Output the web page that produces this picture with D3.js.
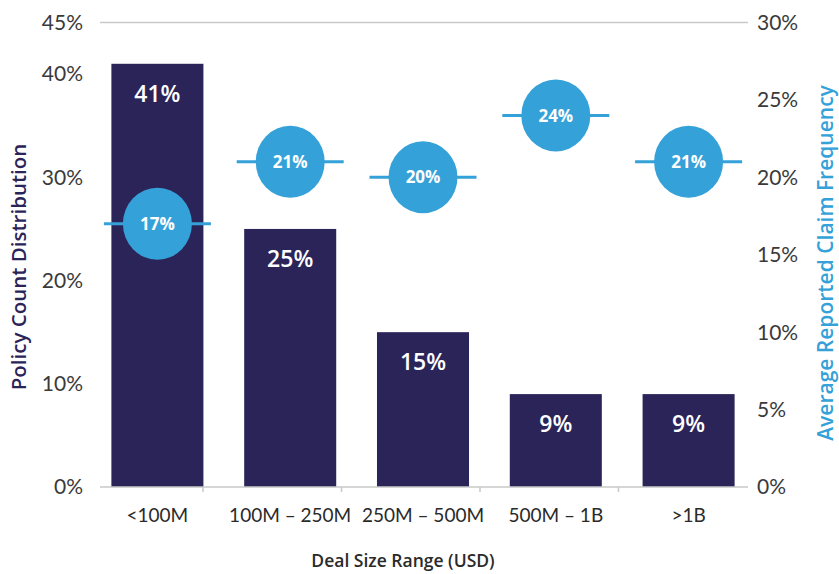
<!DOCTYPE html>
<html>
<head>
<meta charset="utf-8">
<script src="https://cdn.jsdelivr.net/npm/d3@7"></script>
<style>
  html, body { margin: 0; padding: 0; background: #fff; }
  svg { display: block; }
</style>
</head>
<body>
<svg id="chart" width="839" height="574" font-family="Lato, 'Open Sans', sans-serif"></svg>
<script>
// Deal size buckets and the two measured series (percent)
const categories = ["<100M", "100M – 250M", "250M – 500M", "500M – 1B", ">1B"];
const policyShare = [41, 25, 15, 9, 9];          // left axis: policy count distribution
const claimFrequency = [17, 21, 20, 24, 21];     // right axis: average reported claim frequency
const leftTicks = [0, 10, 20, 30, 40, 45];
const rightTicks = [0, 5, 10, 15, 20, 25, 30];

const navy = "#2b2459";
const sky = "#35a1d9";
const tickText = "#3a3a3a";
const boldFont = "'Open Sans', sans-serif";

const svg = d3.select("#chart");

const x = d3.scaleBand()
  .domain(categories)
  .range([91, 755])
  .paddingInner(0.307)
  .paddingOuter(0.1535);

const yLeft = d3.scaleLinear().domain([0, 45]).range([487, 22.5]);
const yRight = d3.scaleLinear().domain([0, 30]).range([487, 22.5]);

// category separators along the baseline
const sep = d3.scaleLinear().domain([0, 5]).range([64.5, 757]);

// top reference line at 45%
svg.append("line")
  .attr("x1", 100).attr("x2", 748)
  .attr("y1", yLeft(45)).attr("y2", yLeft(45))
  .attr("stroke", "#c9c9c9").attr("stroke-width", 1.5);

// bars
svg.append("g").selectAll("rect")
  .data(categories)
  .join("rect")
  .attr("x", d => x(d))
  .attr("width", x.bandwidth())
  .attr("y", (d, i) => yLeft(policyShare[i]))
  .attr("height", (d, i) => yLeft(0) - yLeft(policyShare[i]))
  .attr("fill", navy);

// bar value labels
svg.append("g").selectAll("text")
  .data(categories)
  .join("text")
  .attr("x", d => x(d) + x.bandwidth() / 2)
  .attr("y", (d, i) => yLeft(policyShare[i]) + 38)
  .attr("text-anchor", "middle")
  .attr("fill", "#fff")
  .attr("font-size", 23)
  .attr("font-weight", 600)
  .attr("font-family", boldFont)
  .text((d, i) => policyShare[i] + "%");

// baseline and separator ticks
svg.append("line")
  .attr("x1", 100).attr("x2", 748)
  .attr("y1", yLeft(0)).attr("y2", yLeft(0))
  .attr("stroke", "#c9c9c9").attr("stroke-width", 1.5);
svg.append("g").selectAll("line")
  .data([1, 2, 3, 4])
  .join("line")
  .attr("x1", d => sep(d)).attr("x2", d => sep(d))
  .attr("y1", yLeft(0)).attr("y2", yLeft(0) + 5)
  .attr("stroke", "#c9c9c9").attr("stroke-width", 1.5);

// claim frequency markers: dash through a circle
const marks = svg.append("g").selectAll("g")
  .data(categories)
  .join("g")
  .attr("transform", (d, i) => `translate(${x(d) + x.bandwidth() / 2},${yRight(claimFrequency[i])})`);
marks.append("line")
  .attr("x1", -53.5).attr("x2", 53.5)
  .attr("stroke", sky).attr("stroke-width", 3);
marks.append("ellipse")
  .attr("rx", 34.5).attr("ry", 36)
  .attr("fill", sky);
marks.append("text")
  .attr("text-anchor", "middle")
  .attr("dy", "0.36em")
  .attr("fill", "#fff")
  .attr("font-size", 17)
  .attr("font-weight", 700)
  .attr("font-family", boldFont)
  .text((d, i) => claimFrequency[i] + "%");

// left tick labels
svg.append("g").selectAll("text")
  .data(leftTicks)
  .join("text")
  .attr("x", 83)
  .attr("y", d => yLeft(d))
  .attr("dy", "0.35em")
  .attr("text-anchor", "end")
  .attr("fill", tickText)
  .attr("font-size", 21)
  .text(d => d + "%");

// right tick labels
svg.append("g").selectAll("text")
  .data(rightTicks)
  .join("text")
  .attr("x", 757)
  .attr("y", d => yRight(d))
  .attr("dy", "0.35em")
  .attr("text-anchor", "start")
  .attr("fill", tickText)
  .attr("font-size", 21)
  .text(d => d + "%");

// category labels
svg.append("g").selectAll("text")
  .data(categories)
  .join("text")
  .attr("x", d => x(d) + x.bandwidth() / 2)
  .attr("y", 515)
  .attr("dy", "0.35em")
  .attr("text-anchor", "middle")
  .attr("fill", "#2a2a2a")
  .attr("font-size", 19)
  .text(d => d);

// axis titles
svg.append("text")
  .attr("x", 403).attr("y", 561)
  .attr("dy", "0.35em")
  .attr("text-anchor", "middle")
  .attr("fill", "#2a2a2a")
  .attr("font-size", 17.5)
  .attr("font-weight", 600)
  .attr("font-family", boldFont)
  .text("Deal Size Range (USD)");

svg.append("text")
  .attr("transform", "translate(19,267) rotate(-90)")
  .attr("dy", "0.35em")
  .attr("text-anchor", "middle")
  .attr("fill", navy)
  .attr("font-size", 20.5)
  .attr("font-weight", 600)
  .attr("font-family", boldFont)
  .text("Policy Count Distribution");

svg.append("text")
  .attr("transform", "translate(826,263) rotate(-90)")
  .attr("dy", "0.35em")
  .attr("text-anchor", "middle")
  .attr("fill", sky)
  .attr("font-size", 21)
  .attr("font-weight", 600)
  .attr("font-family", boldFont)
  .text("Average Reported Claim Frequency");
</script>
</body>
</html>
